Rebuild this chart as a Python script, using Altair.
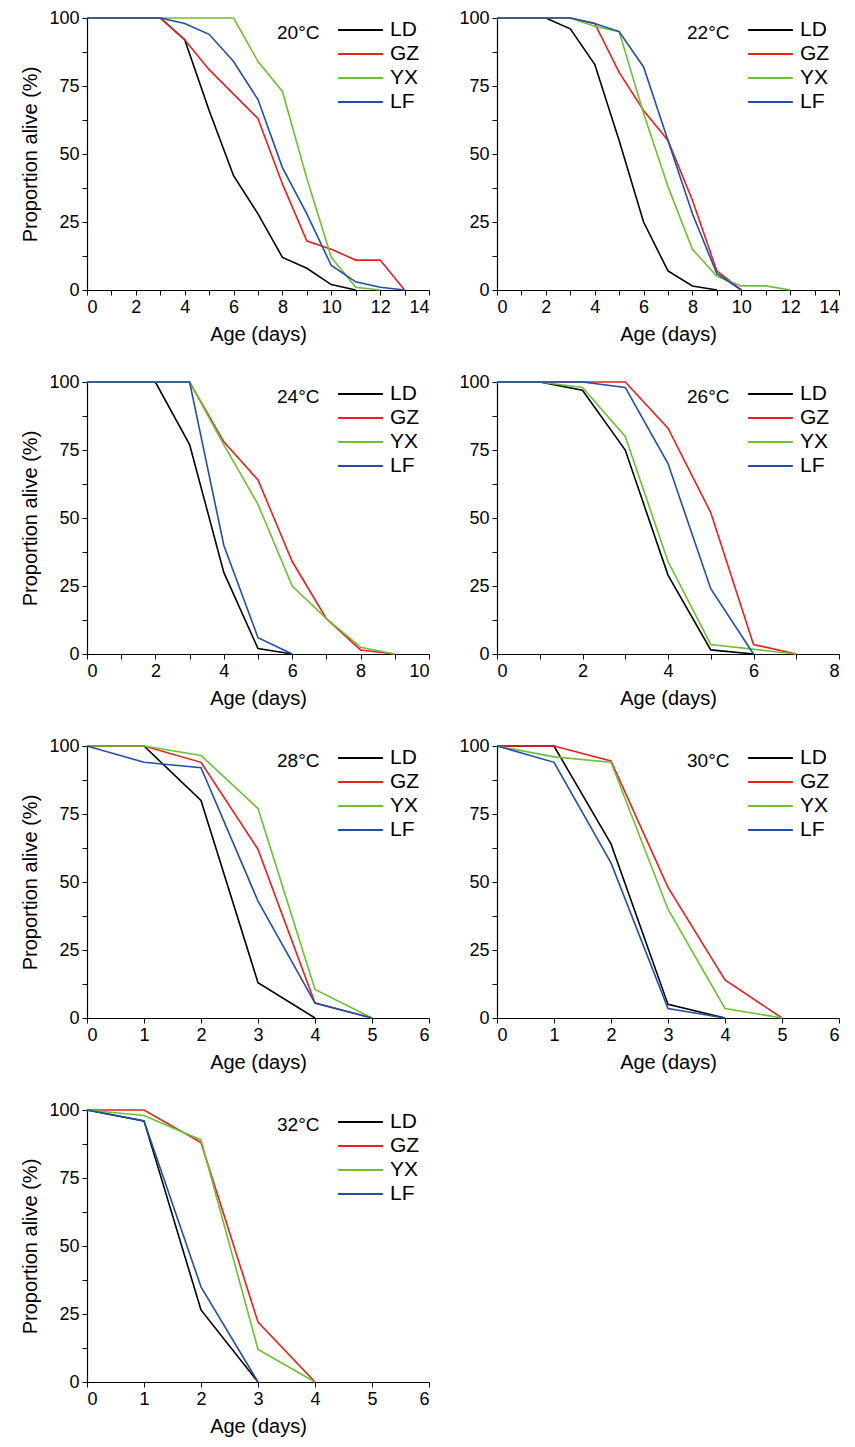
import pandas as pd
import altair as alt

strains = ["LD", "GZ", "YX", "LF"]
colors = ["#000000", "#e8201e", "#6cc132", "#1f4faa"]

# (days, proportion alive)
t20 = {
    "LD": ([0, 3, 4, 5, 6, 7, 8, 9, 10, 11], [100, 100, 92, 66, 42, 28, 12, 8, 2, 0]),
    "GZ": ([0, 3, 4, 5, 6, 7, 8, 9, 10, 11, 12, 13], [100, 100, 92, 81, 72, 63, 39, 18, 15, 11, 11, 0]),
    "YX": ([0, 6, 7, 8, 9, 10, 11, 12], [100, 100, 84, 73, 41, 12, 1, 0]),
    "LF": ([0, 3, 4, 5, 6, 7, 8, 9, 10, 11, 12, 13], [100, 100, 98, 94, 84, 70, 45, 28, 9, 3, 1, 0]),
}
t22 = {
    "LD": ([0, 2, 3, 4, 5, 6, 7, 8, 9], [100, 100, 96, 83, 55, 25, 7, 1.5, 0]),
    "GZ": ([0, 3, 4, 5, 6, 7, 8, 9, 10], [100, 100, 98, 80, 66, 55, 33, 7, 0]),
    "YX": ([0, 3, 4, 5, 6, 7, 8, 9, 10, 11, 12], [100, 100, 97, 95, 65, 38, 15, 5, 1.5, 1.5, 0]),
    "LF": ([0, 3, 4, 5, 6, 7, 8, 9, 10], [100, 100, 98, 95, 82, 55, 28, 6, 0]),
}
t24 = {
    "LD": ([0, 2, 3, 4, 5, 6], [100, 100, 77, 30, 2, 0]),
    "GZ": ([0, 3, 4, 5, 6, 7, 8, 9], [100, 100, 78, 64, 34, 13, 1.5, 0]),
    "YX": ([0, 3, 4, 5, 6, 7, 8, 9], [100, 100, 77, 55, 25, 13, 2.5, 0]),
    "LF": ([0, 3, 4, 5, 6], [100, 100, 40, 6, 0]),
}
t26 = {
    "LD": ([0, 1, 2, 3, 4, 5, 6], [100, 100, 97, 75, 29, 1.5, 0]),
    "GZ": ([0, 3, 4, 5, 6, 7], [100, 100, 83, 52, 3.5, 0]),
    "YX": ([0, 1, 2, 3, 4, 5, 7], [100, 100, 98, 80, 34, 3.5, 0]),
    "LF": ([0, 2, 3, 4, 5, 6], [100, 100, 98, 70, 24, 0]),
}
t28 = {
    "LD": ([0, 1, 2, 3, 4], [100, 100, 80, 13, 0]),
    "GZ": ([0, 1, 2, 3, 4, 5], [100, 100, 94, 62, 5.5, 0]),
    "YX": ([0, 1, 2, 3, 4, 5], [100, 100, 96.5, 77, 10.5, 0]),
    "LF": ([0, 1, 2, 3, 4, 5], [100, 94, 92, 43, 5.5, 0]),
}
t30 = {
    "LD": ([0, 1, 2, 3, 4], [100, 100, 64, 5, 0]),
    "GZ": ([0, 1, 2, 3, 4, 5], [100, 100, 94.5, 48, 14, 0]),
    "YX": ([0, 1, 2, 3, 4, 5], [100, 96, 94, 40, 3.5, 0]),
    "LF": ([0, 1, 2, 3, 4], [100, 94, 57, 3.5, 0]),
}
t32 = {
    "LD": ([0, 1, 2, 3], [100, 96, 26.5, 0]),
    "GZ": ([0, 1, 2, 3, 4], [100, 100, 88, 22, 0]),
    "YX": ([0, 1, 2, 3, 4], [100, 98, 89, 12, 0]),
    "LF": ([0, 1, 2, 3], [100, 96, 35, 0]),
}

FONT = "Liberation Sans"
W, H = 342, 272


def panel(series, label, xmax, xstep, ytitle):
    rows = []
    for s in strains:
        for d, v in zip(*series[s]):
            rows.append({"strain": s, "day": d, "alive": v})
    df = pd.DataFrame(rows)
    xvals = [i * xstep / 2 for i in range(int(2 * xmax / xstep) + 1)]
    lines = alt.Chart(df).mark_line(strokeWidth=1.6).encode(
        x=alt.X("day:Q", title="Age (days)",
                scale=alt.Scale(domain=[0, xmax], nice=False),
                axis=alt.Axis(values=xvals, grid=False, format="d",
                              labelExpr=f"datum.value % {xstep} == 0 ? datum.label : ''")),
        y=alt.Y("alive:Q", title="Proportion alive (%)" if ytitle else None,
                scale=alt.Scale(domain=[0, 100], nice=False),
                axis=alt.Axis(values=[0, 12.5, 25, 37.5, 50, 62.5, 75, 87.5, 100], grid=False,
                              labelExpr="datum.value % 25 == 0 ? datum.label : ''")),
        color=alt.Color("strain:N", scale=alt.Scale(domain=strains, range=colors),
                        sort=strains,
                        legend=alt.Legend(title=None, orient="none", legendX=250, legendY=0,
                                          symbolType="stroke", symbolSize=2000,
                                          symbolStrokeWidth=2, labelFontSize=21,
                                          labelFont=FONT, clipHeight=24, rowPadding=0,
                                          labelOffset=6)),
        detail="strain:N",
    )
    txt = alt.Chart(pd.DataFrame({"t": [label]})).mark_text(
        align="left", baseline="middle", fontSize=19, font=FONT
    ).encode(text="t:N", x=alt.value(190), y=alt.value(15))
    return alt.layer(lines, txt).properties(width=W, height=H)


c20 = panel(t20, "20°C", 14, 2, True)
c22 = panel(t22, "22°C", 14, 2, False)
c24 = panel(t24, "24°C", 10, 2, True)
c26 = panel(t26, "26°C", 8, 2, False)
c28 = panel(t28, "28°C", 6, 1, True)
c30 = panel(t30, "30°C", 6, 1, False)
c32 = panel(t32, "32°C", 6, 1, True)

chart = alt.vconcat(
    alt.hconcat(c20, c22, spacing=28).resolve_scale(color="independent"),
    alt.hconcat(c24, c26, spacing=28).resolve_scale(color="independent"),
    alt.hconcat(c28, c30, spacing=28).resolve_scale(color="independent"),
    c32,
    spacing=29,
).resolve_scale(color="independent").configure_view(stroke=None).configure_axis(
    labelFont=FONT, titleFont=FONT, labelFontSize=18, titleFontSize=20,
    titleFontWeight="normal", labelColor="#000", titleColor="#000",
    domainColor="#000", tickColor="#000", tickSize=5, domainWidth=1.2,
    labelPadding=3, titlePadding=8,
).properties(padding={"left": 12, "top": 1, "right": 2, "bottom": 2})

chart.save("out.html", embed_options={"renderer": "svg", "actions": False})
